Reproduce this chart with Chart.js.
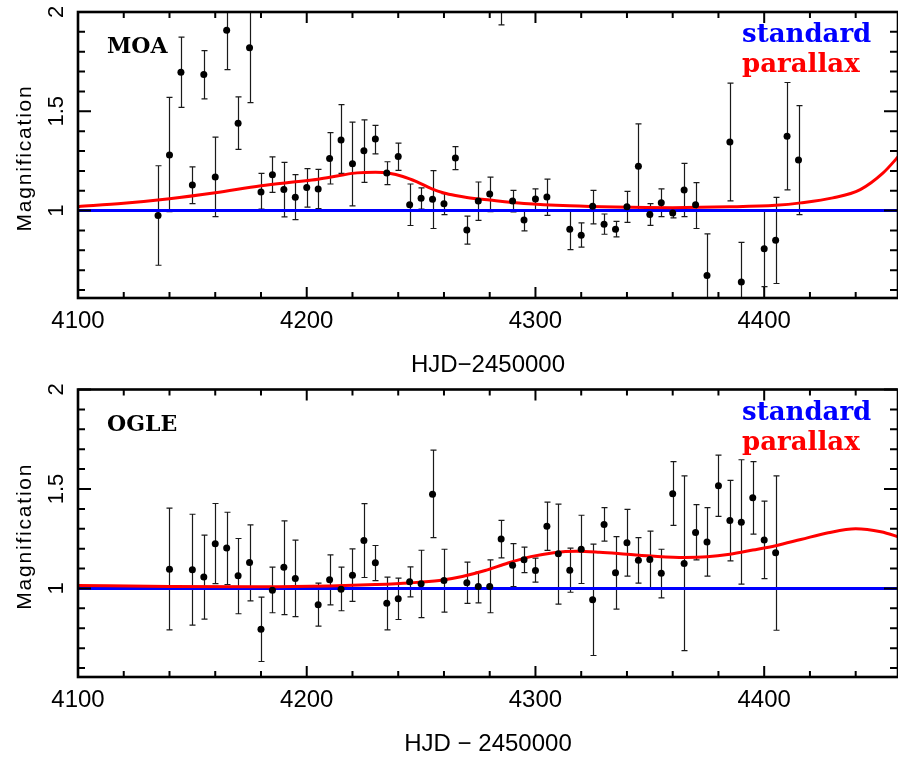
<!DOCTYPE html>
<html>
<head>
<meta charset="utf-8">
<script src="https://cdn.jsdelivr.net/npm/chart.js@4.4.0/dist/chart.umd.min.js"></script>
<style>
  html, body { margin: 0; padding: 0; background: #fff; }
  .panel { position: relative; width: 898px; height: 379px; }
  canvas { display: block; }
</style>
</head>
<body>
<div class="panel"><canvas id="moaChart" width="898" height="379" style="width:898px;height:379px"></canvas></div>
<div class="panel"><canvas id="ogleChart" width="898" height="379" style="width:898px;height:379px"></canvas></div>
<script>
// ==================== DONNÉES ====================

// MOA : HJD-2450000, magnification, bornes des barres d'erreur
const moaX  = [4135, 4140, 4145, 4150, 4155, 4160, 4165, 4170, 4175, 4180, 4185, 4190, 4195, 4200, 4205,
               4210, 4215, 4220, 4225, 4230, 4235, 4240, 4245, 4250, 4255, 4260, 4265, 4270, 4275, 4280,
               4285, 4290, 4295, 4300, 4305, 4315, 4320, 4325, 4330, 4335, 4340, 4345, 4350, 4355, 4360,
               4365, 4370, 4375, 4385, 4390, 4400, 4405, 4410, 4415];
const moaY  = [0.975, 1.28, 1.697, 1.129, 1.685, 1.169, 1.908, 1.44, 1.82, 1.094, 1.181, 1.106, 1.067, 1.116, 1.109,
               1.263, 1.355, 1.236, 1.302, 1.36, 1.189, 1.273, 1.029, 1.062, 1.057, 1.035, 1.265, 0.903, 1.049, 1.084,
               2.1, 1.049, 0.953, 1.059, 1.069, 0.906, 0.876, 1.022, 0.931, 0.906, 1.019, 1.223, 0.981, 1.039, 0.988,
               1.104, 1.029, 0.673, 1.345, 0.64, 0.808, 0.851, 1.375, 1.255];
const moaLo = [0.725, 0.995, 1.52, 1.035, 1.563, 0.97, 1.71, 1.308, 1.544, 1.007, 1.092, 0.968, 0.955, 1.018, 1.01,
               1.134, 1.187, 1.024, 1.142, 1.286, 1.131, 1.203, 0.925, 1.008, 0.91, 0.98, 1.206, 0.831, 0.951, 0.995,
               1.935, 0.993, 0.898, 1.002, 0.976, 0.804, 0.816, 0.933, 0.881, 0.868, 0.941, 1.005, 0.926, 0.97, 0.963,
               0.97, 0.91, 0.46, 1.049, 0.44, 0.617, 0.633, 1.104, 0.98];
const moaHi = [1.226, 1.57, 1.873, 1.22, 1.806, 1.37, 2.1, 1.573, 2.1, 1.187, 1.271, 1.243, 1.181, 1.211, 1.208,
               1.393, 1.534, 1.446, 1.457, 1.429, 1.246, 1.34, 1.134, 1.114, 1.201, 1.085, 1.322, 0.972, 1.144, 1.169,
               2.27, 1.102, 1.0, 1.109, 1.159, 1.0, 0.938, 1.102, 0.983, 0.946, 1.097, 1.437, 1.035, 1.109, 1.005,
               1.238, 1.141, 0.883, 1.642, 0.84, 1.005, 1.067, 1.645, 1.529];

// OGLE
const ogleX  = [4140, 4150, 4155, 4160, 4165, 4170, 4175, 4180, 4185, 4190, 4195, 4205, 4210, 4215, 4220,
                4225, 4230, 4235, 4240, 4245, 4250, 4255, 4260, 4270, 4275, 4280, 4285, 4290, 4295, 4300,
                4305, 4310, 4315, 4320, 4325, 4330, 4335, 4340, 4345, 4350, 4355, 4360, 4365, 4370, 4375,
                4380, 4385, 4390, 4395, 4400, 4405];
const ogleY  = [1.097, 1.094, 1.057, 1.225, 1.203, 1.064, 1.131, 0.795, 0.991, 1.106, 1.05, 0.918, 1.044, 0.996, 1.067,
                1.241, 1.129, 0.926, 0.948, 1.034, 1.024, 1.474, 1.04, 1.029, 1.01, 1.01, 1.248, 1.117, 1.144, 1.09,
                1.313, 1.174, 1.092, 1.197, 0.943, 1.322, 1.079, 1.23, 1.142, 1.146, 1.077, 1.476, 1.126, 1.281, 1.233,
                1.516, 1.342, 1.333, 1.456, 1.243, 1.179];
const ogleLo = [0.792, 0.816, 0.846, 1.024, 1.02, 0.873, 0.938, 0.633, 0.878, 0.868, 0.858, 0.811, 0.918, 0.888, 0.935,
                1.055, 1.039, 0.792, 0.844, 0.958, 0.853, 1.256, 0.881, 0.925, 0.928, 0.878, 1.154, 1.009, 1.08, 1.032,
                1.191, 0.921, 0.981, 1.025, 0.663, 1.238, 0.896, 1.062, 1.027, 1.004, 0.953, 1.317, 0.688, 1.144, 1.062,
                1.362, 1.139, 1.022, 1.273, 1.049, 0.79];
const ogleHi = [1.404, 1.373, 1.268, 1.427, 1.383, 1.251, 1.32, 0.956, 1.107, 1.34, 1.243, 1.027, 1.169, 1.107, 1.199,
                1.426, 1.216, 1.057, 1.052, 1.109, 1.192, 1.695, 1.197, 1.132, 1.082, 1.144, 1.342, 1.225, 1.208, 1.152,
                1.434, 1.424, 1.203, 1.368, 1.223, 1.406, 1.261, 1.397, 1.256, 1.288, 1.197, 1.637, 1.566, 1.421, 1.406,
                1.67, 1.543, 1.647, 1.637, 1.439, 1.566];

// Modèles : parallaxe (rouge) et standard (bleu)
const moaParX  = [4100, 4120, 4140, 4160, 4180, 4195, 4205, 4215, 4222, 4230, 4236, 4242, 4248, 4255, 4260,
                  4265, 4270, 4280, 4295, 4315, 4335, 4360, 4385, 4405, 4416, 4430, 4442, 4452, 4460];
const moaParY  = [1.02, 1.037, 1.06, 1.09, 1.125, 1.145, 1.158, 1.178, 1.19, 1.193, 1.188, 1.172, 1.146, 1.108, 1.089,
                  1.076, 1.066, 1.053, 1.036, 1.024, 1.018, 1.015, 1.019, 1.027, 1.039, 1.064, 1.106, 1.19, 1.29];
const ogleParX = [4100, 4140, 4180, 4210, 4230, 4245, 4258, 4268, 4278, 4288, 4298, 4308, 4318, 4328, 4340,
                  4352, 4365, 4375, 4385, 4395, 4405, 4416, 4428, 4440, 4451, 4460];
const ogleParY = [1.015, 1.01, 1.009, 1.013, 1.02, 1.028, 1.04, 1.06, 1.09, 1.128, 1.16, 1.18, 1.187, 1.182, 1.172,
                  1.162, 1.156, 1.159, 1.172, 1.193, 1.215, 1.246, 1.28, 1.30, 1.285, 1.255];
const stdX = [4100, 4250, 4460];
const stdY = [1, 1, 1];

// Axes
const xRange = [4100, 4458.5];
const xTicks = [4100, 4200, 4300, 4400];
const yTicks = [1, 1.5, 2];
const yTickLabels = ['1', '1.5', '2'];

// ==================== PLUGIN : barres d'erreur, cadre, textes ====================

const framePlugin = {
    id: 'frame',
    beforeDatasetsDraw(chart, args, opts) {
        const {ctx, chartArea: a, scales: {x, y}} = chart;
        ctx.save();
        ctx.beginPath();
        ctx.rect(a.left, a.top, a.right - a.left, a.bottom - a.top);
        ctx.clip();
        ctx.strokeStyle = '#1a1a1a';
        ctx.lineWidth = 1.2;
        opts.xs.forEach((v, i) => {
            const px = Math.round(x.getPixelForValue(v)) + 0.5;
            const p1 = y.getPixelForValue(opts.lo[i]);
            const p2 = y.getPixelForValue(opts.hi[i]);
            ctx.beginPath();
            ctx.moveTo(px, p1); ctx.lineTo(px, p2);
            ctx.moveTo(px - 3, p1); ctx.lineTo(px + 3, p1);
            ctx.moveTo(px - 3, p2); ctx.lineTo(px + 3, p2);
            ctx.stroke();
        });
        ctx.restore();
    },
    afterDatasetsDraw(chart, args, opts) {
        const {ctx, chartArea: a, scales: {x, y}} = chart;
        ctx.save();
        ctx.strokeStyle = '#000';

        // Graduations intérieures
        ctx.lineWidth = 2;
        ctx.beginPath();
        for (let v = xRange[0]; v <= xRange[1]; v += 20) {
            const px = x.getPixelForValue(v);
            const len = v % 100 === 0 ? 11 : 6;
            ctx.moveTo(px, a.bottom); ctx.lineTo(px, a.bottom - len);
            ctx.moveTo(px, a.top); ctx.lineTo(px, a.top + len);
        }
        for (let k = 6; k <= 20; k++) {
            const py = y.getPixelForValue(k / 10);
            const len = (k % 5 === 0) ? 13 : 7;
            ctx.moveTo(a.left, py); ctx.lineTo(a.left + len, py);
            ctx.moveTo(a.right - 1, py); ctx.lineTo(a.right - 1 - len, py);
        }
        ctx.stroke();

        // Cadre
        ctx.lineWidth = 2.6;
        ctx.strokeRect(a.left, a.top, a.right - a.left, a.bottom - a.top);

        // Étiquettes de l'axe Y (tournées)
        ctx.fillStyle = '#000';
        ctx.font = '22px "Liberation Sans", Arial, sans-serif';
        ctx.textAlign = 'center';
        ctx.textBaseline = 'alphabetic';
        yTicks.forEach((v, i) => {
            ctx.save();
            ctx.translate(63, y.getPixelForValue(v));
            ctx.rotate(-Math.PI / 2);
            ctx.fillText(yTickLabels[i], 0, 0);
            ctx.restore();
        });

        // Titre de l'axe Y
        ctx.save();
        ctx.translate(31, (a.top + a.bottom) / 2 + 3);
        ctx.rotate(-Math.PI / 2);
        ctx.font = '21px "Liberation Sans", Arial, sans-serif';
        ctx.letterSpacing = '1.8px';
        ctx.fillText('Magnification', 0, 0);
        ctx.restore();

        // Nom du relevé
        ctx.textAlign = 'left';
        ctx.font = 'bold 22px "DejaVu Serif", serif';
        ctx.fillText(opts.name, 107, a.top + 41);

        // Légende
        ctx.font = 'bold 26px "DejaVu Serif", serif';
        ctx.fillStyle = '#0000ff';
        ctx.fillText('standard', 742, a.top + 30);
        ctx.fillStyle = '#ff0000';
        ctx.fillText('parallax', 742, a.top + 60);
        ctx.restore();
    }
};

// ==================== GRAPHIQUES ====================

function toPoints(xs, ys) {
    return xs.map((v, i) => ({x: v, y: ys[i]}));
}

function makeChart(canvasId, cfg) {
    const ctx = document.getElementById(canvasId).getContext('2d');
    return new Chart(ctx, {
        type: 'scatter',
        data: {
            datasets: [{
                label: 'data',
                data: toPoints(cfg.x, cfg.y),
                pointRadius: 3.5,
                pointBackgroundColor: '#000',
                pointBorderWidth: 0
            }, {
                label: 'parallax',
                data: toPoints(cfg.parX, cfg.parY),
                showLine: true,
                borderColor: '#ff0000',
                borderWidth: 3,
                pointRadius: 0,
                cubicInterpolationMode: 'monotone'
            }, {
                label: 'standard',
                data: toPoints(stdX, stdY),
                showLine: true,
                borderColor: '#0000ff',
                borderWidth: 3,
                pointRadius: 0
            }]
        },
        options: {
            responsive: false,
            animation: false,
            events: [],
            layout: { autoPadding: false, padding: { top: cfg.top, right: 0, left: 0, bottom: 0 } },
            plugins: {
                legend: { display: false },
                tooltip: { enabled: false },
                frame: { xs: cfg.x, lo: cfg.lo, hi: cfg.hi, name: cfg.name }
            },
            scales: {
                x: {
                    type: 'linear',
                    min: xRange[0],
                    max: xRange[1],
                    grid: { display: false, drawTicks: false },
                    border: { display: false },
                    afterBuildTicks: (s) => { s.ticks = xTicks.map(v => ({value: v})); },
                    afterFit: (s) => { s.height = 81; s.paddingLeft = 0; s.paddingRight = 0; },
                    ticks: {
                        padding: 11,
                        maxRotation: 0,
                        autoSkip: false,
                        color: '#000',
                        font: { family: '"Liberation Sans", Arial, sans-serif', size: 24, lineHeight: 1 },
                        callback: (v) => String(v)
                    },
                    title: {
                        display: true,
                        text: cfg.xTitle,
                        color: '#000',
                        padding: { top: 0, bottom: 2 },
                        font: { family: '"Liberation Sans", Arial, sans-serif', size: 24, lineHeight: 1 }
                    }
                },
                y: {
                    type: 'linear',
                    min: cfg.yMin,
                    max: 2,
                    grid: { display: false, drawTicks: false },
                    border: { display: false },
                    ticks: { display: false },
                    afterFit: (s) => { s.width = 78; }
                }
            }
        },
        plugins: [framePlugin]
    });
}

makeChart('moaChart', {
    name: 'MOA', x: moaX, y: moaY, lo: moaLo, hi: moaHi,
    parX: moaParX, parY: moaParY, top: 12, yMin: 0.56,
    xTitle: 'HJD\u22122450000'
});

makeChart('ogleChart', {
    name: 'OGLE', x: ogleX, y: ogleY, lo: ogleLo, hi: ogleHi,
    parX: ogleParX, parY: ogleParY, top: 10.5, yMin: 0.555,
    xTitle: 'HJD \u2212 2450000'
});
</script>
</body>
</html>
